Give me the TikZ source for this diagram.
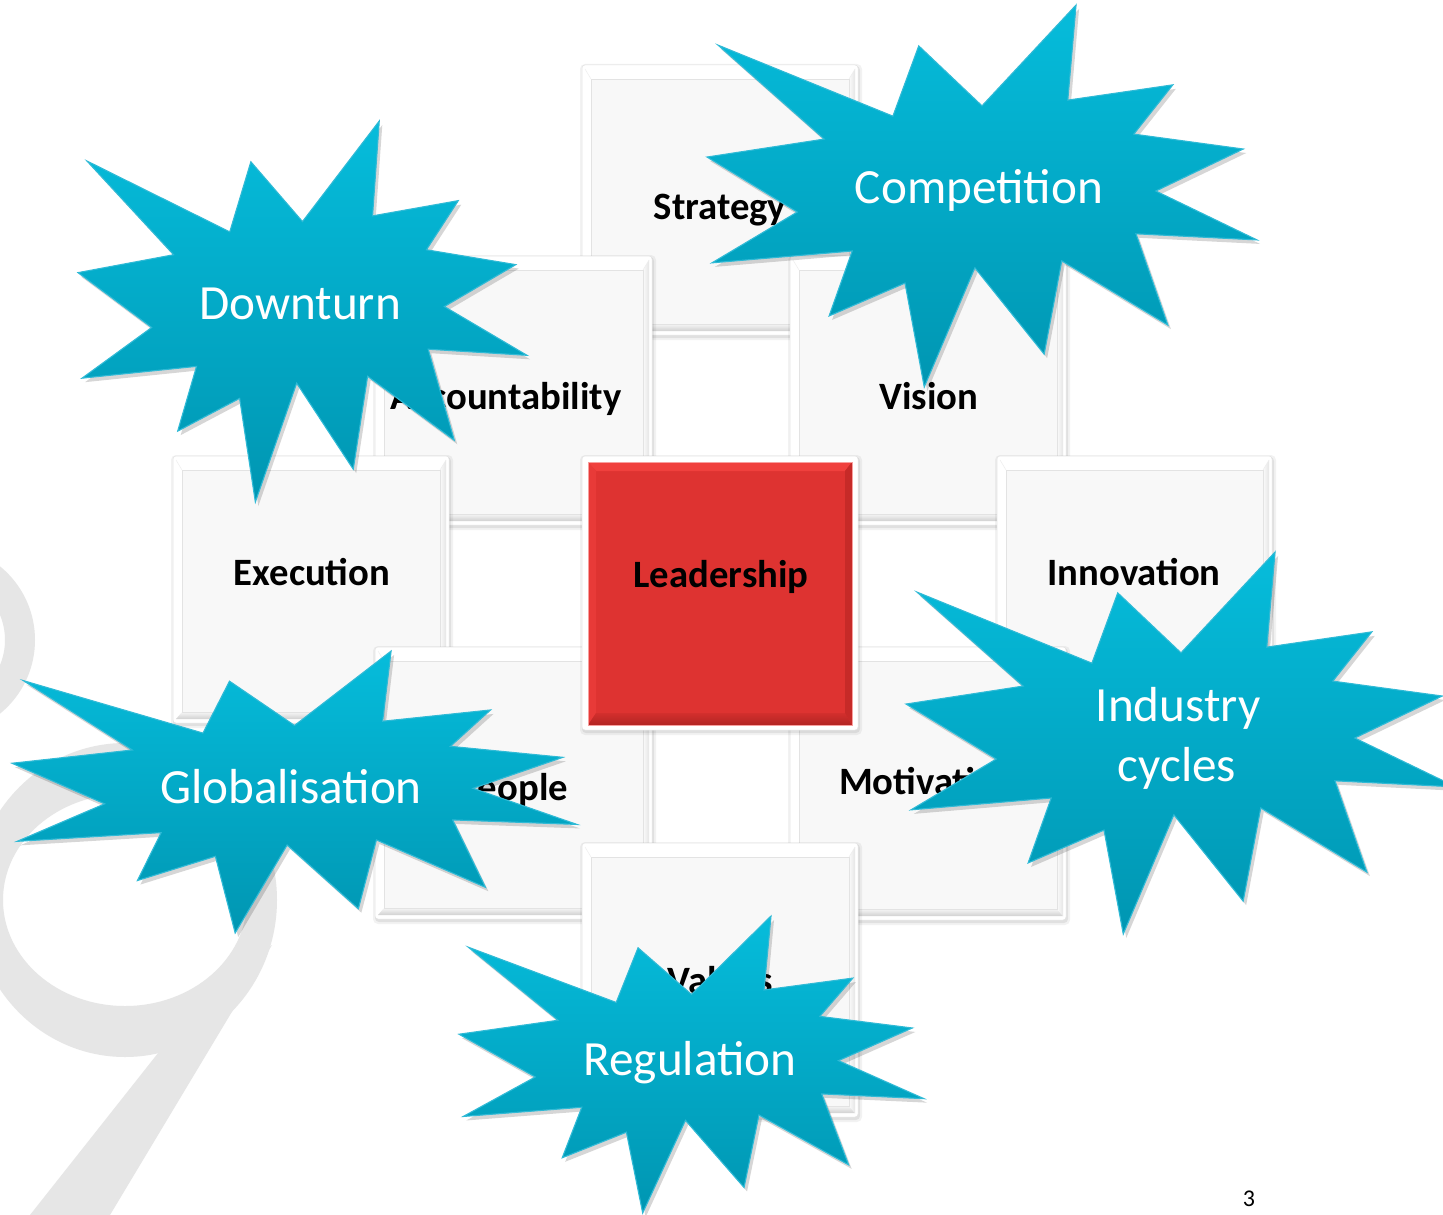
\documentclass[tikz,border=0pt]{standalone}
\usepackage{fontspec}
\setmainfont{Carlito}
\definecolor{burstTop}{RGB}{6,188,219}
\definecolor{burstBot}{RGB}{0,150,178}
\definecolor{burstLine}{RGB}{48,186,214}
\definecolor{faceGray}{RGB}{248,248,248}
\definecolor{wmGray}{RGB}{230,230,230}
\definecolor{redFace}{RGB}{222,51,49}
\definecolor{redTop}{RGB}{240,64,61}
\definecolor{redBot}{RGB}{178,36,34}
\definecolor{redRight}{RGB}{198,42,40}
\tikzset{
  burstfill/.style={top color=burstTop,bottom color=burstBot,draw=burstLine,line width=1.1pt,line join=miter},
  boxtext/.style={font=\fontsize{38.7}{46}\selectfont\bfseries,text=black,anchor=base,inner sep=0pt},
  bursttext/.style={font=\fontsize{49.2}{58}\selectfont,text=white,anchor=base,inner sep=0pt},
}
\newcommand\burstpath[2]{({0.020*#1},{0.105*#2}) -- ({0.338*#1},{0.291*#2}) -- ({0.385*#1},{0.107*#2}) -- ({0.500*#1},{0.264*#2}) -- ({0.671*#1},{0.000*#2}) -- ({0.656*#1},{0.249*#2}) -- ({0.847*#1},{0.209*#2}) -- ({0.776*#1},{0.338*#2}) -- ({0.975*#1},{0.377*#2}) -- ({0.816*#1},{0.487*#2}) -- ({1.000*#1},{0.615*#2}) -- ({0.780*#1},{0.599*#2}) -- ({0.838*#1},{0.838*#2}) -- ({0.645*#1},{0.670*#2}) -- ({0.613*#1},{0.914*#2}) -- ({0.487*#1},{0.688*#2}) -- ({0.395*#1},{1.000*#2}) -- ({0.360*#1},{0.728*#2}) -- ({0.222*#1},{0.814*#2}) -- ({0.264*#1},{0.644*#2}) -- ({0.009*#1},{0.675*#2}) -- ({0.164*#1},{0.542*#2}) -- ({0.000*#1},{0.398*#2}) -- ({0.213*#1},{0.351*#2}) -- cycle}
\newcommand\burst[4]{%
  \fill[black,opacity=.16,shift={({#1+3},{#2+4})}] \burstpath{#3}{#4};
  \path[burstfill,shift={(#1,#2)}] \burstpath{#3}{#4};
}
\newcommand\tile[4]{%
  \fill[black,opacity=.05,rounded corners=5pt] ({#1-2},{#2-1}) rectangle ({#3+4},{#4+5});
  \fill[black,opacity=.07,rounded corners=4pt] ({#1},{#2+1}) rectangle ({#3+2},{#4+3});
  \fill[white,rounded corners=3pt] (#1,#2) rectangle (#3,#4);
  \draw[gray!22,rounded corners=3pt,line width=.5pt] (#1,#2) rectangle (#3,#4);
  \shade[top color=gray!8,bottom color=gray!36] ({#1+9},{#4-11}) -- ({#3-9},{#4-11}) -- ({#3-3},{#4-4}) -- ({#1+3},{#4-4}) -- cycle;
  \shade[left color=gray!4,right color=gray!20] ({#3-9},{#2+14}) -- ({#3-3},{#2+4}) -- ({#3-3},{#4-4}) -- ({#3-9},{#4-11}) -- cycle;
  \fill[faceGray] ({#1+9},{#2+14}) rectangle ({#3-9},{#4-11});
  \draw[gray!22,line width=.6pt] ({#1+9},{#2+14}) rectangle ({#3-9},{#4-11});
  \draw[gray!14,line width=.5pt] ({#1+3},{#2+4}) -- ({#1+9},{#2+14}) ({#3-3},{#2+4}) -- ({#3-9},{#2+14});
}
\begin{document}
\begin{tikzpicture}[x=1pt,y=-1pt]
\useasboundingbox (0,0) rectangle (1443,1215);
\clip (0,0) rectangle (1443,1215);
\fill[white] (0,0) rectangle (1443,1215);
% watermark
\fill[wmGray,even odd rule] (-60,640) circle [radius=95] (-60,640) circle [radius=65];
\fill[wmGray,even odd rule] (125,900) ellipse [x radius=152,y radius=157] (125,900) ellipse [x radius=122,y radius=106];
\fill[wmGray] (200,1000) -- (272,945) -- (110,1215) -- (30,1215) -- cycle;
% tiles
\tile{582}{65}{858}{335}
\node[boxtext] (strat) at (720,219) {Strategy};
\tile{375}{256}{652}{525}
\node[boxtext] (acc) at (506,409) {Accountability};
\tile{790}{256}{1066}{525}
\node[boxtext] (vis) at (929,409) {Vision};
\tile{173}{456}{449}{723}
\node[boxtext] (exe) at (312,585) {Execution};
\tile{997}{456}{1272}{725}
\node[boxtext] (inno) at (1134,585) {Innovation};
\tile{375}{647}{652}{919}
\node[boxtext] (peop) at (513,800) {People};
\tile{790}{647}{1066}{920}
\node[boxtext] (moti) at (928,794) {Motivation};
\tile{582}{843}{858}{1117}
\node[boxtext] (vals) at (720,993) {Values};
% leadership
\fill[black,opacity=.05,rounded corners=5pt] (580,455) rectangle (862,735);
\fill[black,opacity=.07,rounded corners=4pt] (582,457) rectangle (860,733);
\fill[white,rounded corners=3pt] (582,456) rectangle (858,730);
\draw[gray!22,rounded corners=3pt,line width=.5pt] (582,456) rectangle (858,730);
\fill[redFace] (588,462) rectangle (852,725);
\fill[redTop] (588,462) -- (852,462) -- (845,471) -- (596,471) -- cycle;
\fill[redTop!55!redFace] (588,462) -- (596,471) -- (596,713) -- (588,725) -- cycle;
\shade[top color=redFace!75!redBot,bottom color=redBot] (596,713) -- (845,713) -- (852,725) -- (588,725) -- cycle;
\fill[redRight] (845,471) -- (852,462) -- (852,725) -- (845,713) -- cycle;
\draw[redTop!50!white,line width=.6pt] (588,462) rectangle (852,725);
\node[boxtext] (lead) at (721,587) {Leadership};
% bursts
\burst{707}{5}{550}{382}
\node[bursttext] (comp) at (979,203) {Competition};
\burst{78}{121}{449}{381}
\node[bursttext] (down) at (300,319) {Downturn};
\burst{12}{651}{565}{282}
\node[bursttext] (glob) at (291,803) {Globalisation};
\burst{906}{552}{550}{382}
\node[bursttext] (ind1) at (1178,721) {Industry};
\node[bursttext] (ind2) at (1177,781) {cycles};
\burst{459}{916}{465}{297}
\node[bursttext] (regu) at (690,1075) {Regulation};
% page number
\node[font=\fontsize{24}{28}\selectfont,anchor=base,inner sep=0pt] (pg) at (1249,1206) {3};
\end{tikzpicture}
\end{document}
